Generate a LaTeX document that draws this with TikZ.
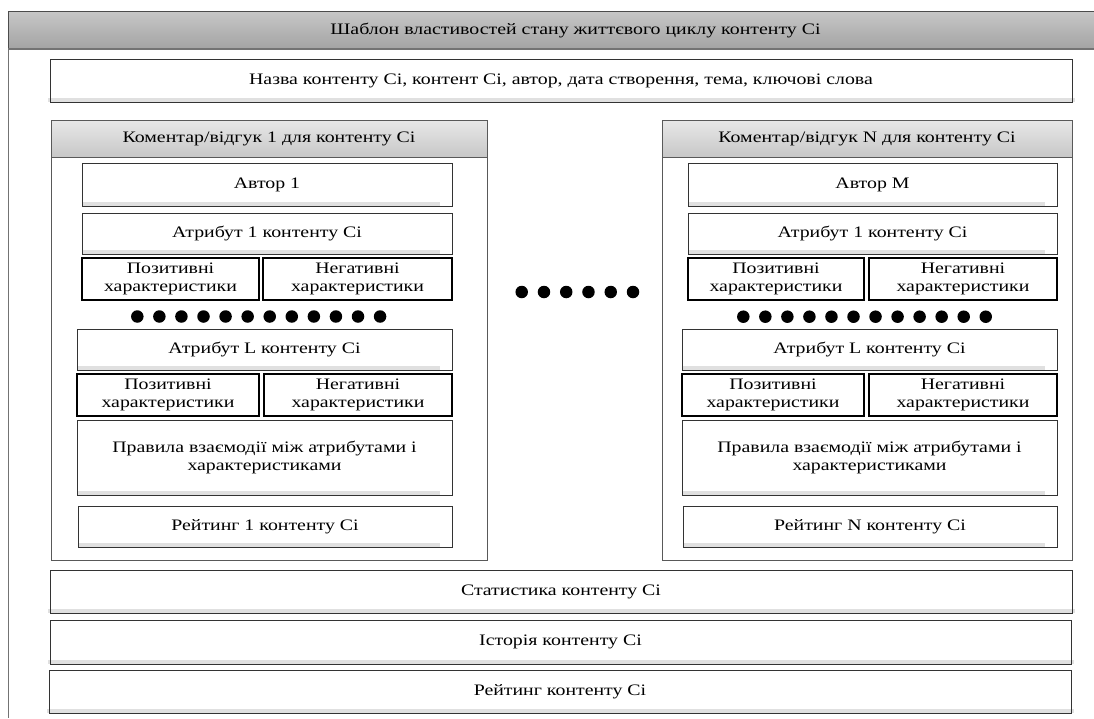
\documentclass[tikz,border=0pt]{standalone}
\usepackage{fontspec}
\setmainfont{Liberation Serif}[FakeStretch=1.24]
\usetikzlibrary{backgrounds}

\tikzset{
  lbl/.style={font=\fontsize{16}{17.5}\selectfont, align=center, text=black},
  cell/.style={lbl, draw=black!80, line width=1pt, inner sep=0pt, outer sep=0pt, anchor=north west},
  charbox/.style={cell, draw=black, line width=2pt},
  panel/.style={cell, draw=black!65},
  panelhead/.style={cell, draw=black!65, top color=black!9, bottom color=black!22},
  mainhead/.style={cell, draw=black!70, top color=black!22, bottom color=black!36},
  band/.style={fill=black!12},
  blob/.style={circle, fill=black, minimum size=12.5pt, inner sep=0pt},
}

\begin{document}
\begin{tikzpicture}[x=1pt, y=-1pt]
\useasboundingbox (0,0) rectangle (1094,718);

% template header (runs past the right edge) and left frame line
\node[mainhead, minimum width=1135pt, minimum height=38pt] (head) at (8,11)
  {Шаблон властивостей стану життєвого циклу контенту Сі};
\coordinate (frameend) at (8.5,718);
\draw[black!55, line width=1.5pt] (head.south west) -- (head.south east);
\draw[black!55, line width=1.5pt] ([xshift=0.5pt]head.south west) -- (frameend);

% general content data
\node[cell, minimum width=1022pt, minimum height=43pt] (name) at (50,59)
  {Назва контенту Сі, контент Сі, автор, дата створення, тема, ключові слова};

% comment 1
\node[panel, minimum width=436pt, minimum height=440pt] (c1) at (51,120) {};
\node[panelhead, minimum width=436pt, minimum height=37pt] (c1h) at (51,120)
  {Коментар/відгук 1 для контенту Сі};
\node[cell, minimum width=370pt, minimum height=43pt] (a1) at (82,163) {Автор 1};
\node[cell, minimum width=370pt, minimum height=41pt] (at11) at (82,213) {Атрибут 1 контенту Сі};
\node[charbox, minimum width=177pt, minimum height=42pt] (p11) at (82,258) {Позитивні\\характеристики};
\node[charbox, minimum width=189pt, minimum height=42pt] (n11) at (263,258) {Негативні\\характеристики};
\foreach \i in {0,...,11} \node[blob] (d1\i) at (137.3+22.07*\i,316.5) {};
\node[cell, minimum width=375pt, minimum height=41pt] (atl1) at (77,329) {Атрибут L контенту Сі};
\node[charbox, minimum width=182pt, minimum height=42pt] (pl1) at (77,374) {Позитивні\\характеристики};
\node[charbox, minimum width=188pt, minimum height=42pt] (nl1) at (264,374) {Негативні\\характеристики};
\node[cell, minimum width=375pt, minimum height=75pt] (r1) at (77,420)
  {Правила взаємодії між атрибутами і\\характеристиками};
\node[cell, minimum width=374pt, minimum height=41pt] (rt1) at (78,506) {Рейтинг 1 контенту Сі};

% comments in between
\foreach \i in {0,...,5} \node[blob] (dm\i) at (521.7+22.26*\i,292) {};

% comment N
\node[panel, minimum width=410pt, minimum height=440pt] (cn) at (662,120) {};
\node[panelhead, minimum width=410pt, minimum height=37pt] (cnh) at (662,120)
  {Коментар/відгук N для контенту Сі};
\node[cell, minimum width=369pt, minimum height=43pt] (an) at (688,163) {Автор M};
\node[cell, minimum width=369pt, minimum height=41pt] (at1n) at (688,213) {Атрибут 1 контенту Сі};
\node[charbox, minimum width=176pt, minimum height=42pt] (p1n) at (688,258) {Позитивні\\характеристики};
\node[charbox, minimum width=188pt, minimum height=42pt] (n1n) at (869,258) {Негативні\\характеристики};
\foreach \i in {0,...,11} \node[blob] (dn\i) at (743.3+22.04*\i,316.7) {};
\node[cell, minimum width=375pt, minimum height=41pt] (atln) at (682,329) {Атрибут L контенту Сі};
\node[charbox, minimum width=182pt, minimum height=42pt] (pln) at (682,374) {Позитивні\\характеристики};
\node[charbox, minimum width=188pt, minimum height=42pt] (nln) at (869,374) {Негативні\\характеристики};
\node[cell, minimum width=375pt, minimum height=75pt] (rn) at (682,420)
  {Правила взаємодії між атрибутами і\\характеристиками};
\node[cell, minimum width=374pt, minimum height=41pt] (rtn) at (683,506) {Рейтинг N контенту Сі};

% summary rows
\node[cell, minimum width=1022pt, minimum height=43pt] (stat) at (50,570) {Статистика контенту Сі};
\node[cell, minimum width=1021pt, minimum height=44pt] (hist) at (50,620) {Історія контенту Сі};
\node[cell, minimum width=1022pt, minimum height=43pt] (rate) at (49,670) {Рейтинг контенту Сі};

% light bands along the bottom of the boxes
\begin{scope}[on background layer]
  \foreach \b in {name,stat,hist,rate}
    \fill[band] ([xshift=-2.5pt,yshift=0.5pt]\b.south west) rectangle ([xshift=2.5pt,yshift=4pt]\b.south east);
  \foreach \b in {a1,at11,atl1,r1,rt1,an,at1n,atln,rn,rtn}
    \fill[band] ([xshift=1pt,yshift=0.5pt]\b.south west) rectangle ([xshift=-12pt,yshift=4pt]\b.south east);
\end{scope}
\end{tikzpicture}
\end{document}
